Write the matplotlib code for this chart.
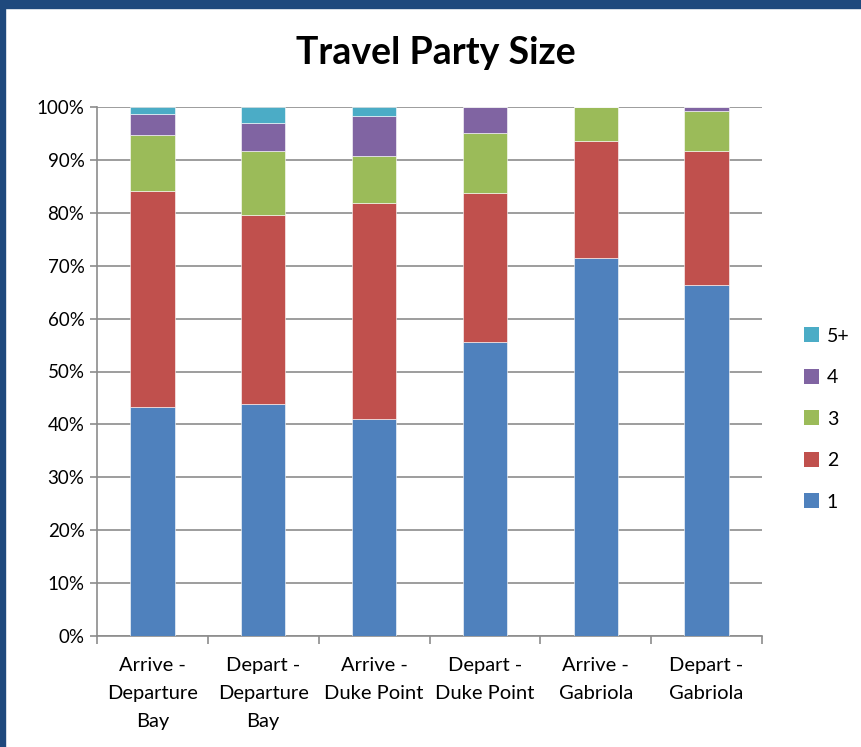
import matplotlib
matplotlib.use("Agg")
import matplotlib.pyplot as plt
from matplotlib.patches import Rectangle, Patch
from matplotlib.ticker import FuncFormatter, FixedLocator
import numpy as np

plt.rcParams['font.family'] = ['Lato', 'DejaVu Sans']

categories = ["Arrive -\nDeparture\nBay", "Depart -\nDeparture\nBay", "Arrive -\nDuke Point",
              "Depart -\nDuke Point", "Arrive -\nGabriola", "Depart -\nGabriola"]
series_names = ["1", "2", "3", "4", "5+"]
s1 = [43.3, 43.9, 41.0, 55.6, 71.4, 66.4]
s2 = [40.8, 35.7, 40.9, 28.2, 22.1, 25.3]
s3 = [10.6, 12.1, 8.8, 11.2, 6.5, 7.6]
s4 = [4.0, 5.3, 7.6, 5.0, 0.0, 0.7]
s5 = [1.3, 3.0, 1.7, 0.0, 0.0, 0.0]
colors = ["#4F81BD", "#C0504D", "#9BBB59", "#8064A2", "#4BACC6"]

W, H = 861, 747
fig = plt.figure(figsize=(W / 100, H / 100), dpi=100)
fig.patch.set_facecolor("white")
# slide border
fig.patches.append(Rectangle((0, 1 - 8 / H), 1, 8 / H, transform=fig.transFigure,
                             color="#1F497D", zorder=0))
fig.patches.append(Rectangle((0, 0), 5 / W, 1, transform=fig.transFigure,
                             color="#1F497D", zorder=0))

ax = fig.add_axes([97 / W, (H - 636) / H, (762 - 97) / W, (636 - 107) / H])
x = np.arange(len(categories))
bottom = np.zeros(len(categories))
handles = []
for name, vals, c in zip(series_names, [s1, s2, s3, s4, s5], colors):
    v = np.array(vals)
    ax.bar(x, v, width=0.4, bottom=bottom, color=c, edgecolor="white",
           linewidth=0.4, zorder=3)
    bottom += v
    handles.append(Patch(facecolor=c, edgecolor="none", label=name))

ax.set_xlim(-0.5, len(categories) - 0.5)
ax.set_ylim(0, 100)
ax.set_yticks(np.arange(0, 101, 10))
ax.yaxis.set_major_formatter(FuncFormatter(lambda v, p: f"{int(v)}%"))
ax.yaxis.grid(True, color="#8C8C8C", linewidth=1.2, zorder=0)
ax.set_axisbelow(True)

ax.set_xticks(x)
ax.set_xticklabels(categories, fontsize=14.5, linespacing=1.8)
ax.xaxis.set_minor_locator(FixedLocator(np.arange(-0.5, len(categories), 1.0)))
ax.tick_params(axis="x", which="major", length=0, pad=15)
ax.tick_params(axis="x", which="minor", length=6, color="#8C8C8C", width=1.2)
ax.tick_params(axis="y", length=5, color="#8C8C8C", width=1.2, labelsize=13.5, pad=4)

for s in ["top", "right"]:
    ax.spines[s].set_visible(False)
for s in ["left", "bottom"]:
    ax.spines[s].set_color("#8C8C8C")
    ax.spines[s].set_linewidth(1.2)

fig.text(436 / W, 1 - 53 / H, "Travel Party Size", ha="center", va="center",
         fontsize=27, fontweight="bold")

leg = fig.legend(handles=handles[::-1], loc="center left",
                 bbox_to_anchor=(786 / W, 1 - 419 / H), frameon=False,
                 fontsize=14, handlelength=0.8, handleheight=0.8,
                 labelspacing=1.25, handletextpad=0.4)

fig.savefig("out.png", dpi=100)
